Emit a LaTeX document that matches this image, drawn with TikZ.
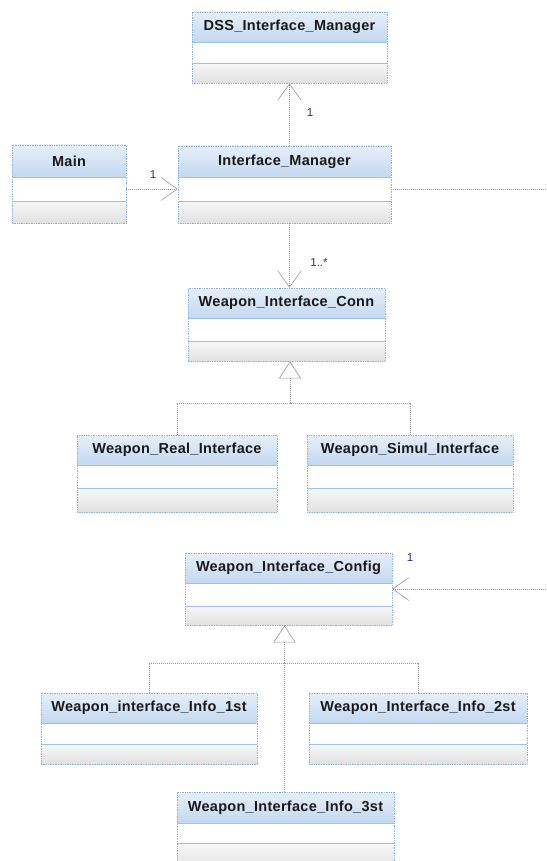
\documentclass[tikz,border=0pt]{standalone}
\usepackage{fontspec}
\setmainfont{Liberation Sans}
\newfontfamily\hdfont[LetterSpace=2]{Liberation Sans}
\usetikzlibrary{arrows.meta,calc}
\definecolor{hdtop}{HTML}{E6EFFA}
\definecolor{hdbot}{HTML}{C3D8F0}
\definecolor{fttop}{HTML}{F7F7F7}
\definecolor{ftbot}{HTML}{E1E1E1}
\definecolor{frcol}{HTML}{8DB5E2}
\definecolor{sepcol}{HTML}{9CC2EA}
\definecolor{conncol}{HTML}{999999}
\definecolor{multcol}{HTML}{2A2A8E}
\tikzset{
  classframe/.style={draw=frcol, densely dotted, line width=0.7pt, inner sep=0pt, fill=none},
  classtitle/.style={font=\hdfont\bfseries\fontsize{14.5}{16}\selectfont, text=black!90, inner sep=0pt},
  sepline/.style={draw=sepcol, line width=0.7pt},
  conn/.style={draw=conncol, line width=0.6pt, dash pattern=on 1pt off 1pt},
  assoc/.style={conn, -{Straight Barb[length=16pt,width=23pt,line width=0.6pt]}},
  gen/.style={conn, -{Triangle[open,length=17pt,width=22pt,line width=0.6pt,fill=white]}},
  mult/.style={font=\fontsize{11.5}{13}\selectfont, text=multcol, inner sep=0pt}
}
\newcommand\umlclass[8]{%
  \pgfmathsetmacro\cw{#5-#3}%
  \pgfmathsetmacro\ch{#8-#4}%
  \pgfmathsetmacro\cx{(#3+#5)/2}%
  \pgfmathsetmacro\cy{(#4+#8)/2}%
  \pgfmathsetmacro\hy{(#4+#6)/2}%
  \pgfmathsetmacro\my{(#6+#7)/2}%
  \shade[top color=hdtop,bottom color=hdbot] (#3,#4) rectangle (#5,#6);
  \fill[white] (#3,#6) rectangle (#5,#7);
  \shade[top color=fttop,bottom color=ftbot] (#3,#7) rectangle (#5,#8);
  \draw[sepline] (#3,#6) -- (#5,#6) (#3,#7) -- (#5,#7);
  \node[classframe, minimum width=\cw pt, minimum height=\ch pt] (#1) at (\cx,\cy) {};
  \node[classtitle] (#1-t) at (\cx,\hy) {#2};
  \coordinate (#1-mr) at (#5,\my);
}
\begin{document}
\begin{tikzpicture}[x=1pt,y=-1pt]
\useasboundingbox (0,0) rectangle (546,861);
\clip (0,0) rectangle (546,861);
\fill[white] (0,0) rectangle (546,861);

\umlclass{DSS}{DSS\_Interface\_Manager}{192}{12}{387}{42}{63}{83}
\umlclass{Main}{Main}{12}{145}{126}{177}{201}{223}
\umlclass{IM}{Interface\_Manager}{178}{146}{391}{177}{201}{223}
\umlclass{WIC}{Weapon\_Interface\_Conn}{188}{288}{385}{318}{341}{361}
\umlclass{WRI}{Weapon\_Real\_Interface}{77}{435}{277}{465}{488}{512}
\umlclass{WSI}{Weapon\_Simul\_Interface}{307}{435}{513}{465}{488}{512}
\umlclass{WCfg}{Weapon\_Interface\_Config}{185}{553}{392}{583}{606}{625}
\umlclass{WII1}{Weapon\_interface\_Info\_1st}{41}{693}{257}{723}{744}{764}
\umlclass{WII2}{Weapon\_Interface\_Info\_2st}{309}{693}{527}{723}{744}{764}
\umlclass{WII3}{Weapon\_Interface\_Info\_3st}{177}{792}{394}{823}{843}{870}

% associations
\draw[assoc] (DSS.south |- IM.north) -- (DSS.south);
\node[mult] (mDSS) at (310,113) {1};
\draw[assoc] (Main-mr) -- (Main-mr -| IM.west);
\node[mult] (mMain) at (153,175) {1};
\draw[assoc] (DSS.south |- IM.south) -- (DSS.south |- WIC.north);
\node[mult] (mWIC) at (319,263) {1..*};
\coordinate (offA) at (550,189);
\draw[conn] (IM-mr) -- (offA);
\coordinate (offB) at (550,589);
\draw[assoc] (offB) -- (WCfg.east);
\node[mult] (mCfg) at (410,558) {1};

% generalization: Conn
\coordinate (jA) at (290,403);
\draw[conn] (WRI.north) |- (jA) -| (WSI.north);
\draw[gen] (jA) -- (jA |- WIC.south);

% generalization: Config
\coordinate (jB) at (284.5,663);
\draw[conn] (WII1.north) |- (jB) -| (WII2.north);
\draw[conn] (WII3.north -| jB) -- (jB);
\draw[gen] (jB) -- (jB |- WCfg.south);
\end{tikzpicture}
\end{document}
